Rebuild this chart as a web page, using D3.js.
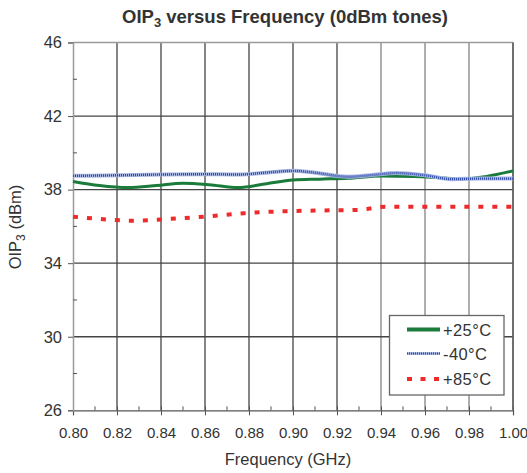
<!DOCTYPE html>
<html>
<head>
<meta charset="utf-8">
<script src="https://cdn.jsdelivr.net/npm/d3@7"></script>
<style>
  body { margin: 0; background: #fff; }
  text { font-family: "Liberation Sans", Arial, sans-serif; fill: #333; }
</style>
</head>
<body>
<svg id="chart" width="527" height="473"></svg>
<script>
// ---- data ----
const freqTicks = [0.80, 0.82, 0.84, 0.86, 0.88, 0.90, 0.92, 0.94, 0.96, 0.98, 1.00];
const oipTicks = [26, 30, 34, 38, 42, 46];

const freq25 = [0.800, 0.812, 0.825, 0.838, 0.850, 0.862, 0.875, 0.888, 0.900, 0.912, 0.925, 0.940, 0.955, 0.967, 0.976, 0.988, 1.000];
const oip25  = [38.44, 38.22, 38.11, 38.22, 38.35, 38.27, 38.11, 38.32, 38.52, 38.57, 38.62, 38.74, 38.72, 38.64, 38.58, 38.72, 39.02];

const freqM40 = [0.800, 0.820, 0.840, 0.860, 0.875, 0.890, 0.900, 0.910, 0.925, 0.935, 0.947, 0.960, 0.972, 0.985, 1.000];
const oipM40  = [38.75, 38.78, 38.82, 38.84, 38.82, 38.95, 39.02, 38.92, 38.70, 38.78, 38.90, 38.78, 38.57, 38.60, 38.60];

const freq85 = [0.800, 0.815, 0.827, 0.840, 0.850, 0.860, 0.878, 0.895, 0.910, 0.930, 0.942, 0.960, 0.980, 1.000];
const oip85  = [36.53, 36.38, 36.31, 36.38, 36.45, 36.53, 36.72, 36.82, 36.86, 36.90, 37.07, 37.07, 37.07, 37.07];

const legendLabels = ["+25°C", "-40°C", "+85°C"];

// ---- layout ----
const svg = d3.select("#chart");
const L = 73, R = 513, T = 42.5, B = 410.3;
const x = d3.scaleLinear().domain([0.80, 1.00]).range([L, R]);
const y = d3.scaleLinear().domain([26, 46]).range([B, T]);

// grid vertical
const g = svg.append("g");
freqTicks.forEach((f, i) => {
  if (i === 0) return;
  const light = (f >= 0.935 && f < 0.995);
  g.append("line")
    .attr("x1", x(f)).attr("x2", x(f)).attr("y1", T).attr("y2", B)
    .attr("stroke", light ? "#9a9a9a" : "#444")
    .attr("stroke-width", light ? 1.6 : 1.3);
});
// grid horizontal
oipTicks.forEach(v => {
  if (v === 26) return;
  g.append("line")
    .attr("x1", L).attr("x2", R).attr("y1", y(v)).attr("y2", y(v))
    .attr("stroke", v === 46 ? "#9a9a9a" : "#444")
    .attr("stroke-width", v === 46 ? 1.6 : 1.3);
});

// x axis
const xAxis = d3.axisBottom(x).tickValues(freqTicks).tickFormat(d3.format(".2f")).tickSize(5).tickPadding(12);
const xa = svg.append("g").attr("transform", `translate(0,${B})`).call(xAxis);
xa.select(".domain").attr("stroke", "#555").attr("stroke-width", 1.2);
xa.selectAll(".tick line").attr("stroke", "#555").attr("y1", -4);
xa.selectAll("text").style("font-size", "15px").attr("fill", "#333");
// x minor ticks
const xMinor = d3.range(10).map(i => 0.81 + i * 0.02);
svg.append("g").selectAll("line").data(xMinor).join("line")
  .attr("x1", d => x(d)).attr("x2", d => x(d)).attr("y1", B - 4).attr("y2", B)
  .attr("stroke", "#555");

// y axis
const yAxis = d3.axisLeft(y).tickValues(oipTicks).tickSize(5).tickPadding(6);
const ya = svg.append("g").attr("transform", `translate(${L},0)`).call(yAxis);
ya.select(".domain").attr("stroke", "#9a9a9a").attr("stroke-width", 1.5);
ya.selectAll(".tick line").attr("stroke", "#555").attr("x2", -5).attr("x1", 0);
ya.selectAll("text").style("font-size", "16.5px").attr("fill", "#333");
const yMinor = [28, 32, 36, 40, 44];
svg.append("g").selectAll("line").data(yMinor).join("line")
  .attr("x1", L).attr("x2", L + 4).attr("y1", d => y(d)).attr("y2", d => y(d))
  .attr("stroke", "#555");

// right border
svg.append("line").attr("x1", R).attr("x2", R).attr("y1", T).attr("y2", B)
  .attr("stroke", "#666").attr("stroke-width", 1.4);

// lines
const line = d3.line().x(d => x(d[0])).y(d => y(d[1])).curve(d3.curveMonotoneX);
const d25 = freq25.map((f, i) => [f, oip25[i]]);
const dM40 = freqM40.map((f, i) => [f, oipM40[i]]);
const d85 = freq85.map((f, i) => [f, oip85[i]]);

const pl = svg.append("g");
pl.append("path").attr("d", line(d85)).attr("fill", "none")
  .attr("stroke", "#ee2a2a").attr("stroke-width", 4).attr("stroke-dasharray", "5,9");
pl.append("path").attr("d", line(d25)).attr("fill", "none")
  .attr("stroke", "#1b7b3b").attr("stroke-width", 3);
pl.append("path").attr("d", line(dM40)).attr("fill", "none")
  .attr("stroke", "#a9b8e4").attr("stroke-width", 4);
pl.append("path").attr("d", line(dM40)).attr("fill", "none")
  .attr("stroke", "#2d48a8").attr("stroke-width", 2.4).attr("stroke-dasharray", "1,1");

// legend
const lg = svg.append("g");
lg.append("rect").attr("x", 389.5).attr("y", 315.5).attr("width", 114.5).attr("height", 79.5)
  .attr("fill", "#fff").attr("stroke", "#666").attr("stroke-width", 1.3);
const rowsY = [329.5, 353.5, 379];
lg.append("line").attr("x1", 407).attr("x2", 440).attr("y1", rowsY[0]).attr("y2", rowsY[0])
  .attr("stroke", "#1b7b3b").attr("stroke-width", 4);
lg.append("line").attr("x1", 407).attr("x2", 440).attr("y1", rowsY[1]).attr("y2", rowsY[1])
  .attr("stroke", "#a9b8e4").attr("stroke-width", 3);
lg.append("line").attr("x1", 407).attr("x2", 440).attr("y1", rowsY[1]).attr("y2", rowsY[1])
  .attr("stroke", "#2d48a8").attr("stroke-width", 2).attr("stroke-dasharray", "1,1");
lg.append("line").attr("x1", 407).attr("x2", 440).attr("y1", rowsY[2]).attr("y2", rowsY[2])
  .attr("stroke", "#ee2a2a").attr("stroke-width", 4).attr("stroke-dasharray", "5,8.5");
legendLabels.forEach((t, i) => {
  lg.append("text").attr("x", 443).attr("y", rowsY[i] + 6).style("font-size", "16.5px")
    .attr("letter-spacing", "0.4px").text(t);
});

// title
const title = svg.append("text").attr("x", 285).attr("y", 23).attr("text-anchor", "middle")
  .style("font-size", "18.5px").style("font-weight", "bold");
title.append("tspan").text("OIP");
title.append("tspan").attr("dy", 4).style("font-size", "13px").text("3");
title.append("tspan").attr("dy", -4).text(" versus Frequency (0dBm tones)");

// axis titles
svg.append("text").attr("x", 288).attr("y", 465).attr("text-anchor", "middle")
  .style("font-size", "16.5px").text("Frequency (GHz)");
const yt = svg.append("text").attr("transform", "translate(21,227) rotate(-90)")
  .attr("text-anchor", "middle").style("font-size", "16.5px");
yt.append("tspan").text("OIP");
yt.append("tspan").attr("dy", 4).style("font-size", "12px").text("3");
yt.append("tspan").attr("dy", -4).text(" (dBm)");
</script>
</body>
</html>
